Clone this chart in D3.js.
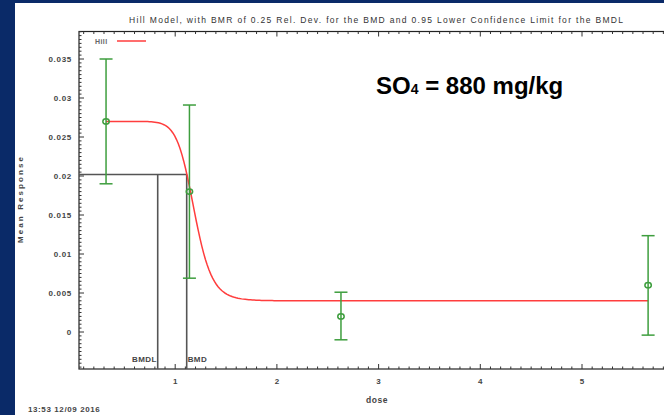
<!DOCTYPE html>
<html>
<head>
<meta charset="utf-8">
<script src="https://cdn.jsdelivr.net/npm/d3@7"></script>
<style>
  body { margin: 0; background: #0a2a68; }
  svg { display: block; }
  text { font-family: Arial, "Liberation Sans", sans-serif; }
</style>
</head>
<body>
<div class="chart"></div>
<script>
(function () {

	// observed doses and responses
	var doses = [0.32, 1.14, 2.63, 5.65];
	var means = [0.027, 0.018, 0.002, 0.006];
	var lower = [0.019, 0.0069, -0.001, -0.0004];
	var upper = [0.035, 0.0291, 0.0051, 0.01235];

	// fitted Hill model: g + v * x^n / (k^n + x^n)
	var hillG = 0.027, hillV = -0.023, hillK = 1.188, hillN = 13.7;

	var bmd = 1.113, bmdl = 0.828, bmr = 0.0202;

	var xTicks = [1, 2, 3, 4, 5];
	var yTicks = [0, 0.005, 0.01, 0.015, 0.02, 0.025, 0.03, 0.035];
	var yTickLabels = ["0", "0.005", "0.01", "0.015", "0.02", "0.025", "0.03", "0.035"];

	var W = 664, H = 415;
	var left = 79, right = 690, top = 31.5, bottom = 369;

	var svg = d3.select(".chart").append("svg")
		.attr("width", W)
		.attr("height", H);

	// white page on navy background
	svg.append("rect")
		.attr("x", 15).attr("y", 3)
		.attr("width", W - 15).attr("height", H - 3)
		.attr("fill", "#fff");

	var x = d3.scaleLinear()
		.domain([(left - 73.5) / 101.7, (right - 73.5) / 101.7])
		.range([left, right]);

	var y = d3.scaleLinear()
		.domain([(332 - bottom) / 7800, (332 - top) / 7800])
		.range([bottom, top]);

	var txt = "#444";

	svg.append("text")
		.attr("x", 376).attr("y", 23)
		.attr("text-anchor", "middle")
		.attr("font-size", "8.5px")
		.attr("fill", "#333")
		.attr("textLength", 494)
		.attr("lengthAdjust", "spacing")
		.text("Hill Model, with BMR of 0.25 Rel. Dev. for the BMD and 0.95 Lower Confidence Limit for the BMDL");

	// frame
	svg.append("rect")
		.attr("x", left).attr("y", top)
		.attr("width", right - left).attr("height", bottom - top)
		.attr("fill", "none")
		.attr("stroke", "#222")
		.attr("stroke-width", 1.2);

	// minor and major ticks, drawn inward
	var xMinor = d3.range(1, 70).map(function (i) { return i / 10; })
		.filter(function (d) { return x(d) > left && x(d) < right; });
	var yMinor = d3.range(-9, 78).map(function (i) { return i * 0.0005; })
		.filter(function (d) { return y(d) < bottom && y(d) > top; });

	var ticks = svg.append("g").attr("stroke", "#333").attr("stroke-width", 1);

	ticks.selectAll(".xb").data(xMinor).enter().append("line")
		.attr("x1", function (d) { return x(d); })
		.attr("x2", function (d) { return x(d); })
		.attr("y1", bottom)
		.attr("y2", function (d) { return Math.abs(d - Math.round(d)) < 1e-6 ? bottom - 5 : bottom - 2.5; });

	ticks.selectAll(".xt").data(xMinor).enter().append("line")
		.attr("x1", function (d) { return x(d); })
		.attr("x2", function (d) { return x(d); })
		.attr("y1", top)
		.attr("y2", function (d) { return Math.abs(d - Math.round(d)) < 1e-6 ? top + 5 : top + 2.5; });

	ticks.selectAll(".yl").data(yMinor).enter().append("line")
		.attr("y1", function (d) { return y(d); })
		.attr("y2", function (d) { return y(d); })
		.attr("x1", left)
		.attr("x2", function (d) { return Math.abs(d / 0.005 - Math.round(d / 0.005)) < 1e-6 ? left + 5 : left + 2.5; });

	// tick labels
	svg.append("g").selectAll("text").data(xTicks).enter().append("text")
		.attr("x", function (d) { return x(d); })
		.attr("y", 384)
		.attr("text-anchor", "middle")
		.attr("font-size", "8px")
		.attr("font-weight", "bold")
		.attr("fill", txt)
		.text(function (d) { return d; });

	svg.append("g").selectAll("text").data(yTicks).enter().append("text")
		.attr("x", 72)
		.attr("y", function (d) { return y(d) + 3; })
		.attr("text-anchor", "end")
		.attr("font-size", "8px")
		.attr("font-weight", "bold")
		.attr("letter-spacing", "0.7px")
		.attr("fill", txt)
		.text(function (d, i) { return yTickLabels[i]; });

	svg.append("text")
		.attr("x", 377).attr("y", 403)
		.attr("text-anchor", "middle")
		.attr("font-size", "8.5px")
		.attr("font-weight", "bold")
		.attr("letter-spacing", "0.6px")
		.attr("fill", txt)
		.text("dose");

	svg.append("text")
		.attr("transform", "translate(23,200) rotate(-90)")
		.attr("text-anchor", "middle")
		.attr("font-size", "8px")
		.attr("font-weight", "bold")
		.attr("fill", txt)
		.attr("textLength", 86)
		.attr("lengthAdjust", "spacing")
		.text("Mean Response");

	svg.append("text")
		.attr("x", 28).attr("y", 412)
		.attr("font-size", "8px")
		.attr("font-weight", "bold")
		.attr("letter-spacing", "0.6px")
		.attr("fill", txt)
		.text("13:53 12/09 2016");

	// BMD / BMDL lines
	var bm = svg.append("g").attr("stroke", "#555").attr("stroke-width", 1.6).attr("fill", "none");
	bm.append("line")
		.attr("x1", left).attr("x2", x(bmd))
		.attr("y1", y(bmr)).attr("y2", y(bmr));
	bm.append("line")
		.attr("x1", x(bmdl)).attr("x2", x(bmdl))
		.attr("y1", y(bmr)).attr("y2", bottom);
	bm.append("line")
		.attr("x1", x(bmd)).attr("x2", x(bmd))
		.attr("y1", y(bmr)).attr("y2", bottom);

	svg.append("text")
		.attr("x", x(bmdl) - 1).attr("y", 362)
		.attr("text-anchor", "end")
		.attr("font-size", "8px")
		.attr("font-weight", "bold")
		.attr("letter-spacing", "0.4px")
		.attr("fill", txt)
		.text("BMDL");
	svg.append("text")
		.attr("x", x(bmd) + 1).attr("y", 362)
		.attr("font-size", "8px")
		.attr("font-weight", "bold")
		.attr("letter-spacing", "0.4px")
		.attr("fill", txt)
		.text("BMD");

	// Hill curve
	var curveX = d3.range(0, 301).map(function (i) {
		return doses[0] + (doses[doses.length - 1] - doses[0]) * i / 300;
	});
	var hill = function (d) {
		var p = Math.pow(d, hillN);
		return hillG + hillV * p / (Math.pow(hillK, hillN) + p);
	};
	svg.append("path")
		.datum(curveX)
		.attr("fill", "none")
		.attr("stroke", "#ff3d3d")
		.attr("stroke-width", 1.5)
		.attr("d", d3.line()
			.x(function (d) { return x(d); })
			.y(function (d) { return y(hill(d)); }));

	// error bars
	var green = "#3e9e3e";
	var eb = svg.append("g").attr("stroke", green).attr("stroke-width", 1.5).attr("fill", "none");
	doses.forEach(function (d, i) {
		eb.append("line")
			.attr("x1", x(d)).attr("x2", x(d))
			.attr("y1", y(lower[i])).attr("y2", y(upper[i]));
		eb.append("line")
			.attr("x1", x(d) - 6.5).attr("x2", x(d) + 6.5)
			.attr("y1", y(lower[i])).attr("y2", y(lower[i]));
		eb.append("line")
			.attr("x1", x(d) - 6.5).attr("x2", x(d) + 6.5)
			.attr("y1", y(upper[i])).attr("y2", y(upper[i]));
		eb.append("ellipse")
			.attr("cx", x(d)).attr("cy", y(means[i]))
			.attr("rx", 3.2).attr("ry", 2.6);
	});

	// legend
	svg.append("text")
		.attr("x", 95).attr("y", 44)
		.attr("font-size", "7px")
		.attr("font-weight", "bold")
		.attr("letter-spacing", "0.4px")
		.attr("fill", "#666")
		.text("Hill");
	svg.append("line")
		.attr("x1", 117).attr("x2", 146)
		.attr("y1", 41).attr("y2", 41)
		.attr("stroke", "#ff3d3d")
		.attr("stroke-width", 1.5);

	// annotation
	var note = svg.append("text")
		.attr("x", 376).attr("y", 94)
		.attr("font-size", "24px")
		.attr("font-weight", "bold")
		.attr("fill", "#000");
	note.append("tspan").text("SO");
	note.append("tspan").attr("font-size", "14px").text("4");
	note.append("tspan").text(" = 880 mg/kg");

})();
</script>
</body>
</html>
